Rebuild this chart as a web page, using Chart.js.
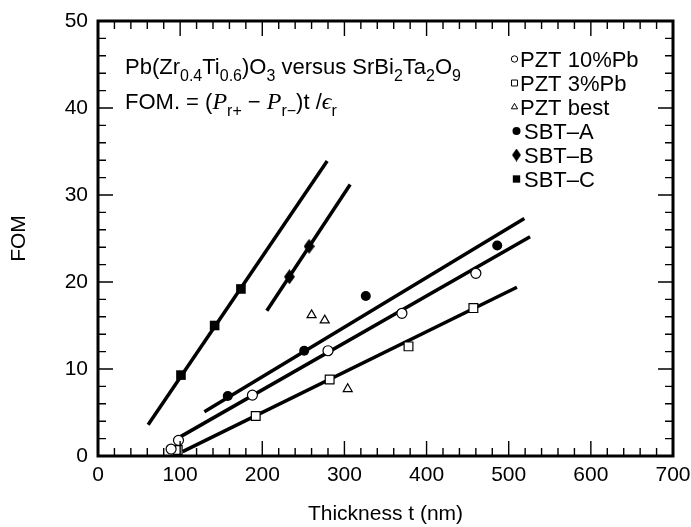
<!DOCTYPE html>
<html>
<head>
<meta charset="utf-8">
<script src="https://cdn.jsdelivr.net/npm/chart.js@4"></script>
<style>
  html, body { margin: 0; padding: 0; background: #fff; }
  #wrap { width: 691px; height: 527px; }
</style>
</head>
<body>
<div id="wrap"><canvas id="fom-chart" width="691" height="527"></canvas></div>
<script>
// axis ticks
const xTickValues = [0, 100, 200, 300, 400, 500, 600, 700];
const yTickValues = [0, 10, 20, 30, 40, 50];

// measured points (thickness nm, FOM)
const pzt10X = [89, 98, 188, 280, 370, 460];
const pzt10Y = [0.8, 1.8, 7.0, 12.1, 16.4, 21.0];
const pzt3X = [97, 192, 282, 378, 457];
const pzt3Y = [0.7, 4.6, 8.8, 12.6, 17.0];
const pztBestX = [260, 276, 304];
const pztBestY = [16.2, 15.6, 7.7];
const sbtAX = [158, 251, 326, 486];
const sbtAY = [6.9, 12.1, 18.4, 24.2];
const sbtBX = [233, 257];
const sbtBY = [20.6, 24.1];
const sbtCX = [101, 142, 174];
const sbtCY = [9.3, 15.0, 19.2];

// fitted lines (end points)
const fitPzt10X = [100, 526];
const fitPzt10Y = [2.2, 25.2];
const fitPzt3X = [103, 510];
const fitPzt3Y = [0.5, 19.4];
const fitSbtAX = [129.5, 519];
const fitSbtAY = [5.1, 27.3];
const fitSbtBX = [205.5, 307];
const fitSbtBY = [16.7, 31.2];
const fitSbtCX = [61, 279];
const fitSbtCY = [3.6, 33.9];

const pts = (xs, ys) => xs.map((x, i) => ({ x, y: ys[i] }));

// narrow diamond marker like the original
function diamond(w, h) {
    const c = document.createElement('canvas');
    c.width = w; c.height = h;
    const g = c.getContext('2d');
    g.fillStyle = '#000';
    g.beginPath();
    g.moveTo(w / 2, 0); g.lineTo(w, h / 2); g.lineTo(w / 2, h); g.lineTo(0, h / 2);
    g.closePath(); g.fill();
    return c;
}
const diamondBig = diamond(11, 15);
const diamondSmall = diamond(9, 13);

const FONT = '"Liberation Sans", Arial, Helvetica, sans-serif';
const SERIF = '"Liberation Serif", "Times New Roman", serif';

const fitLine = (xs, ys) => ({
    type: 'line',
    data: pts(xs, ys),
    borderColor: '#000',
    borderWidth: 3.5,
    pointRadius: 0,
    fill: false,
    order: 2
});

const markerSets = [
    { label: 'PZT 10%Pb', data: pts(pzt10X, pzt10Y), pointStyle: 'circle', pointRadius: 5, pointBackgroundColor: '#fff', legendRadius: 3.2, open: true },
    { label: 'PZT 3%Pb', data: pts(pzt3X, pzt3Y), pointStyle: 'rect', pointRadius: 6.2, pointBackgroundColor: '#fff', legendRadius: 4.2, open: true },
    { label: 'PZT best', data: pts(pztBestX, pztBestY), pointStyle: 'triangle', pointRadius: 5.2, pointBackgroundColor: '#fff', legendRadius: 3.6, open: true },
    { label: 'SBT\u2013A', data: pts(sbtAX, sbtAY), pointStyle: 'circle', pointRadius: 5, pointBackgroundColor: '#000', legendRadius: 4, open: false },
    { label: 'SBT\u2013B', data: pts(sbtBX, sbtBY), pointStyle: diamondBig, pointRadius: 6, pointBackgroundColor: '#000', legendStyle: diamondSmall, open: false },
    { label: 'SBT\u2013C', data: pts(sbtCX, sbtCY), pointStyle: 'rect', pointRadius: 6.8, pointBackgroundColor: '#000', legendRadius: 5.2, open: false }
];

// draws a run of [text, kind] pieces; kind: n normal, s subscript, i italic serif
function drawRuns(ctx, runs, x, y, size) {
    runs.forEach(([text, kind]) => {
        let font, dy = 0;
        if (kind === 's') { font = `${Math.round(size * 0.72)}px ${FONT}`; dy = size * 0.3; }
        else if (kind === 'i') { font = `italic ${Math.round(size * 1.08)}px ${SERIF}`; }
        else { font = `${size}px ${FONT}`; }
        ctx.font = font;
        ctx.fillText(text, x, y + dy);
        x += ctx.measureText(text).width;
    });
}

const framePlugin = {
    id: 'frameTicks',
    afterDatasetsDraw(chart) {
        const { ctx, chartArea: a, scales: { x, y } } = chart;
        ctx.save();
        ctx.strokeStyle = '#000';
        ctx.lineWidth = 1.4;
        ctx.beginPath();
        for (let v = x.min; v <= x.max; v += 20) {
            const px = x.getPixelForValue(v);
            const len = v % 100 === 0 ? 15 : 8;
            ctx.moveTo(px, a.bottom); ctx.lineTo(px, a.bottom - len);
            ctx.moveTo(px, a.top); ctx.lineTo(px, a.top + len);
        }
        for (let v = y.min; v <= y.max; v += 2) {
            const py = y.getPixelForValue(v);
            const len = v % 10 === 0 ? 15 : 8;
            ctx.moveTo(a.left, py); ctx.lineTo(a.left + len, py);
            ctx.moveTo(a.right, py); ctx.lineTo(a.right - len, py);
        }
        ctx.stroke();
        ctx.lineWidth = 3;
        ctx.strokeRect(a.left, a.top, a.right - a.left, a.bottom - a.top);
        ctx.restore();
    },
    afterDraw(chart) {
        const { ctx } = chart;
        ctx.save();
        ctx.fillStyle = '#000';
        ctx.textBaseline = 'alphabetic';
        drawRuns(ctx, [
            ['Pb(Zr', 'n'], ['0.4', 's'], ['Ti', 'n'], ['0.6', 's'], [')O', 'n'], ['3', 's'],
            [' versus SrBi', 'n'], ['2', 's'], ['Ta', 'n'], ['2', 's'], ['O', 'n'], ['9', 's']
        ], 125, 74, 22);
        drawRuns(ctx, [
            ['FOM. = (', 'n'], ['P', 'i'], ['r+', 's'], [' \u2212 ', 'n'], ['P', 'i'], ['r\u2212', 's'],
            [')t /', 'n'], ['\u03f5', 'i'], ['r', 's']
        ], 125, 109, 22);

        // legend
        markerSets.forEach((m, i) => {
            const cy = 59 + i * 24;
            const mx = m.open ? 514.5 : 516.5;
            ctx.fillStyle = m.pointBackgroundColor;
            ctx.strokeStyle = '#000';
            ctx.lineWidth = 1;
            Chart.helpers.drawPoint(ctx, {
                pointStyle: m.legendStyle || m.pointStyle,
                radius: m.legendRadius || 4,
                rotation: 0,
                borderWidth: m.open ? 1 : 0
            }, mx, cy);
            ctx.fillStyle = '#000';
            ctx.font = `22px ${FONT}`;
            ctx.fillText(m.label, m.open ? 520 : 524, cy + 8);
        });
        ctx.restore();
    }
};

new Chart(document.getElementById('fom-chart'), {
    type: 'scatter',
    data: {
        datasets: [
            fitLine(fitPzt10X, fitPzt10Y),
            fitLine(fitPzt3X, fitPzt3Y),
            fitLine(fitSbtAX, fitSbtAY),
            fitLine(fitSbtBX, fitSbtBY),
            fitLine(fitSbtCX, fitSbtCY),
            ...markerSets.map(m => ({
                label: m.label,
                data: m.data,
                pointStyle: m.pointStyle,
                pointRadius: m.pointRadius,
                pointBackgroundColor: m.pointBackgroundColor,
                pointBorderColor: '#000',
                pointBorderWidth: m.open ? 1.2 : 0,
                showLine: false,
                order: 1
            }))
        ]
    },
    options: {
        responsive: false,
        animation: false,
        devicePixelRatio: 1,
        layout: { padding: { top: 21, right: 18, left: 0, bottom: 0 } },
        plugins: { legend: { display: false }, tooltip: { enabled: false } },
        scales: {
            x: {
                type: 'linear', min: 0, max: 700,
                afterBuildTicks: s => { s.ticks = xTickValues.map(v => ({ value: v })); },
                afterFit: s => { s.height = 71; s.paddingLeft = 0; s.paddingRight = 0; },
                grid: { display: false, drawTicks: false },
                border: { display: false },
                ticks: { color: '#000', font: { family: FONT, size: 21 }, padding: 7, maxRotation: 0 },
                title: { display: true, text: 'Thickness t (nm)', color: '#000', font: { family: FONT, size: 21 }, padding: 0 }
            },
            y: {
                type: 'linear', min: 0, max: 50,
                afterBuildTicks: s => { s.ticks = yTickValues.map(v => ({ value: v })); },
                afterFit: s => { s.width = 98; s.paddingTop = 0; s.paddingBottom = 0; },
                grid: { display: false, drawTicks: false },
                border: { display: false },
                ticks: { color: '#000', font: { family: FONT, size: 21 }, padding: 10 },
                title: { display: true, text: 'FOM', color: '#000', font: { family: FONT, size: 21 }, padding: { top: 7, bottom: 0 } }
            }
        }
    },
    plugins: [framePlugin]
});
</script>
</body>
</html>
